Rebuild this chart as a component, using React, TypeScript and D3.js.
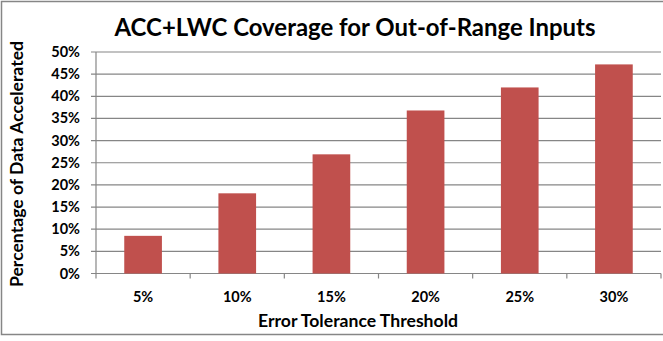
import React from "react";
import * as d3 from "d3";

const categories = ["5%", "10%", "15%", "20%", "25%", "30%"];
const values = [8.5, 18.1, 26.9, 36.8, 42.0, 47.2];
const yTicks = [0, 5, 10, 15, 20, 25, 30, 35, 40, 45, 50];

const W = 663;
const H = 341;
const plot = { left: 96, right: 661, top: 52, bottom: 273.5 };
const FONT = "Lato, 'Open Sans', 'Liberation Sans', sans-serif";

export default function App() {
  const x = d3
    .scaleBand<string>()
    .domain(categories)
    .range([plot.left, plot.right])
    .paddingInner(0.6)
    .paddingOuter(0.3);
  const band = d3.scaleBand<string>().domain(categories).range([plot.left, plot.right]);
  const y = d3.scaleLinear().domain([0, 50]).range([plot.bottom, plot.top]);

  return (
    <svg
      width={W}
      height={H}
      style={{ position: "absolute", left: 0, top: 0, background: "#fff" }}
      fontFamily={FONT}
    >
      <rect x={1.5} y={1.5} width={W + 5} height={333} fill="#fff" stroke="#868686" strokeWidth={1.5} />
      <text x={355} y={36} textAnchor="middle" fontSize={24} fontWeight={700} fill="#000" textLength={481} lengthAdjust="spacingAndGlyphs">
        ACC+LWC Coverage for Out-of-Range Inputs
      </text>
      {yTicks.map((t) => (
        <g key={t}>
          <line x1={plot.left - 5} x2={plot.right} y1={y(t)} y2={y(t)} stroke="#868686" strokeWidth={1.2} />
          <text x={plot.left - 16} y={y(t) + 5} textAnchor="end" fontSize={14.5} fontWeight={700} fill="#000">
            {t}%
          </text>
        </g>
      ))}
      <line x1={plot.left} x2={plot.left} y1={plot.top} y2={plot.bottom} stroke="#868686" strokeWidth={1.2} />
      {categories.map((c, i) => (
        <rect key={c} x={x(c)} y={y(values[i])} width={x.bandwidth()} height={plot.bottom - y(values[i])} fill="#C0504D" />
      ))}
      {[...categories.map((c) => band(c) as number), plot.right].map((v, i) => (
        <line key={i} x1={v} x2={v} y1={plot.bottom} y2={plot.bottom + 5} stroke="#868686" strokeWidth={1.2} />
      ))}
      {categories.map((c) => (
        <text key={c} x={(band(c) as number) + band.bandwidth() / 2} y={302} textAnchor="middle" fontSize={14.5} fontWeight={700} fill="#000">
          {c}
        </text>
      ))}
      <text x={358} y={327} textAnchor="middle" fontSize={16.5} fontWeight={700} fill="#000" textLength={200} lengthAdjust="spacingAndGlyphs">
        Error Tolerance Threshold
      </text>
      <text
        transform="translate(23,164) rotate(-90)"
        textAnchor="middle"
        fontSize={16.5}
        fontWeight={700}
        fill="#000"
        textLength={246}
        lengthAdjust="spacingAndGlyphs"
      >
        Percentage of Data Accelerated
      </text>
    </svg>
  );
}
